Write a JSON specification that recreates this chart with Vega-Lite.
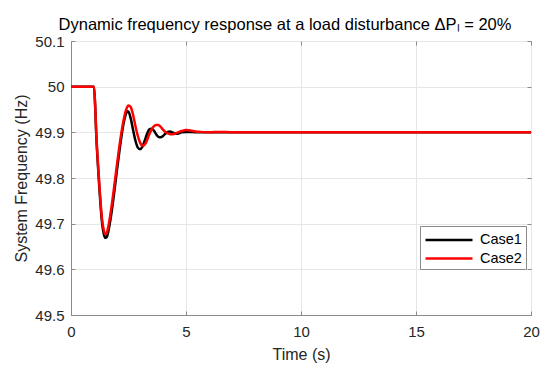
{
  "$schema": "https://vega.github.io/schema/vega-lite/v6.json",
  "width": 460,
  "height": 274,
  "autosize": {"type": "none"},
  "padding": {"left": 71, "top": 41, "right": 19, "bottom": 56},
  "background": "white",
  "title": {
    "text": "Dynamic frequency response at a load disturbance ΔPₗ = 20%",
    "font": "Liberation Sans",
    "fontSize": 16.5,
    "fontWeight": "normal",
    "color": "#000000",
    "anchor": "middle",
    "baseline": "alphabetic",
    "offset": -12,
    "dx": -16
  },
  "config": {
    "font": "Liberation Sans",
    "view": {"stroke": "#8a8a8a", "strokeWidth": 1},
    "axis": {
      "labelFont": "Liberation Sans",
      "labelFontSize": 15,
      "labelColor": "#262626",
      "titleFont": "Liberation Sans",
      "titleFontSize": 16,
      "titleFontWeight": "normal",
      "titleColor": "#262626",
      "domainColor": "#8a8a8a",
      "tickColor": "#8a8a8a",
      "gridColor": "#e6e6e6",
      "gridWidth": 1
    }
  },
  "datasets": {
    "freq": [
      {"t": 0, "f": 50, "series": "Case1"},
      {"t": 1.0, "f": 50, "series": "Case1"},
      {"t": 1.05, "f": 49.958, "series": "Case1"},
      {"t": 1.1, "f": 49.892, "series": "Case1"},
      {"t": 1.15, "f": 49.845, "series": "Case1"},
      {"t": 1.2, "f": 49.804, "series": "Case1"},
      {"t": 1.25, "f": 49.765, "series": "Case1"},
      {"t": 1.3, "f": 49.73, "series": "Case1"},
      {"t": 1.35, "f": 49.702, "series": "Case1"},
      {"t": 1.4, "f": 49.684, "series": "Case1"},
      {"t": 1.45, "f": 49.673, "series": "Case1"},
      {"t": 1.5, "f": 49.669, "series": "Case1"},
      {"t": 1.55, "f": 49.67, "series": "Case1"},
      {"t": 1.6, "f": 49.678, "series": "Case1"},
      {"t": 1.7, "f": 49.704, "series": "Case1"},
      {"t": 1.8, "f": 49.738, "series": "Case1"},
      {"t": 1.9, "f": 49.777, "series": "Case1"},
      {"t": 2.0, "f": 49.818, "series": "Case1"},
      {"t": 2.1, "f": 49.857, "series": "Case1"},
      {"t": 2.2, "f": 49.893, "series": "Case1"},
      {"t": 2.3, "f": 49.923, "series": "Case1"},
      {"t": 2.4, "f": 49.942, "series": "Case1"},
      {"t": 2.45, "f": 49.946, "series": "Case1"},
      {"t": 2.5, "f": 49.945, "series": "Case1"},
      {"t": 2.6, "f": 49.93, "series": "Case1"},
      {"t": 2.7, "f": 49.905, "series": "Case1"},
      {"t": 2.8, "f": 49.882, "series": "Case1"},
      {"t": 2.9, "f": 49.867, "series": "Case1"},
      {"t": 3.0, "f": 49.863, "series": "Case1"},
      {"t": 3.1, "f": 49.868, "series": "Case1"},
      {"t": 3.2, "f": 49.881, "series": "Case1"},
      {"t": 3.3, "f": 49.896, "series": "Case1"},
      {"t": 3.4, "f": 49.906, "series": "Case1"},
      {"t": 3.5, "f": 49.908, "series": "Case1"},
      {"t": 3.6, "f": 49.904, "series": "Case1"},
      {"t": 3.7, "f": 49.896, "series": "Case1"},
      {"t": 3.8, "f": 49.89, "series": "Case1"},
      {"t": 3.9, "f": 49.889, "series": "Case1"},
      {"t": 4.0, "f": 49.892, "series": "Case1"},
      {"t": 4.1, "f": 49.897, "series": "Case1"},
      {"t": 4.2, "f": 49.901, "series": "Case1"},
      {"t": 4.3, "f": 49.902, "series": "Case1"},
      {"t": 4.4, "f": 49.9, "series": "Case1"},
      {"t": 4.5, "f": 49.898, "series": "Case1"},
      {"t": 4.6, "f": 49.897, "series": "Case1"},
      {"t": 4.7, "f": 49.898, "series": "Case1"},
      {"t": 4.8, "f": 49.9, "series": "Case1"},
      {"t": 5.0, "f": 49.901, "series": "Case1"},
      {"t": 5.5, "f": 49.9, "series": "Case1"},
      {"t": 20, "f": 49.9, "series": "Case1"},
      {"t": 0, "f": 50, "series": "Case2"},
      {"t": 1.0, "f": 50, "series": "Case2"},
      {"t": 1.05, "f": 49.96, "series": "Case2"},
      {"t": 1.1, "f": 49.895, "series": "Case2"},
      {"t": 1.15, "f": 49.85, "series": "Case2"},
      {"t": 1.2, "f": 49.81, "series": "Case2"},
      {"t": 1.25, "f": 49.772, "series": "Case2"},
      {"t": 1.3, "f": 49.738, "series": "Case2"},
      {"t": 1.35, "f": 49.71, "series": "Case2"},
      {"t": 1.4, "f": 49.692, "series": "Case2"},
      {"t": 1.45, "f": 49.681, "series": "Case2"},
      {"t": 1.5, "f": 49.677, "series": "Case2"},
      {"t": 1.55, "f": 49.679, "series": "Case2"},
      {"t": 1.6, "f": 49.688, "series": "Case2"},
      {"t": 1.7, "f": 49.716, "series": "Case2"},
      {"t": 1.8, "f": 49.751, "series": "Case2"},
      {"t": 1.9, "f": 49.79, "series": "Case2"},
      {"t": 2.0, "f": 49.83, "series": "Case2"},
      {"t": 2.1, "f": 49.868, "series": "Case2"},
      {"t": 2.2, "f": 49.902, "series": "Case2"},
      {"t": 2.3, "f": 49.93, "series": "Case2"},
      {"t": 2.4, "f": 49.95, "series": "Case2"},
      {"t": 2.5, "f": 49.959, "series": "Case2"},
      {"t": 2.6, "f": 49.955, "series": "Case2"},
      {"t": 2.7, "f": 49.938, "series": "Case2"},
      {"t": 2.8, "f": 49.914, "series": "Case2"},
      {"t": 2.9, "f": 49.893, "series": "Case2"},
      {"t": 3.0, "f": 49.878, "series": "Case2"},
      {"t": 3.1, "f": 49.871, "series": "Case2"},
      {"t": 3.2, "f": 49.873, "series": "Case2"},
      {"t": 3.3, "f": 49.882, "series": "Case2"},
      {"t": 3.4, "f": 49.895, "series": "Case2"},
      {"t": 3.5, "f": 49.906, "series": "Case2"},
      {"t": 3.6, "f": 49.913, "series": "Case2"},
      {"t": 3.7, "f": 49.916, "series": "Case2"},
      {"t": 3.8, "f": 49.916, "series": "Case2"},
      {"t": 3.9, "f": 49.912, "series": "Case2"},
      {"t": 4.0, "f": 49.906, "series": "Case2"},
      {"t": 4.1, "f": 49.901, "series": "Case2"},
      {"t": 4.2, "f": 49.898, "series": "Case2"},
      {"t": 4.3, "f": 49.896, "series": "Case2"},
      {"t": 4.4, "f": 49.896, "series": "Case2"},
      {"t": 4.5, "f": 49.897, "series": "Case2"},
      {"t": 4.6, "f": 49.899, "series": "Case2"},
      {"t": 4.7, "f": 49.901, "series": "Case2"},
      {"t": 4.8, "f": 49.903, "series": "Case2"},
      {"t": 4.9, "f": 49.904, "series": "Case2"},
      {"t": 5.0, "f": 49.905, "series": "Case2"},
      {"t": 5.2, "f": 49.904, "series": "Case2"},
      {"t": 5.4, "f": 49.902, "series": "Case2"},
      {"t": 5.6, "f": 49.901, "series": "Case2"},
      {"t": 6.0, "f": 49.9, "series": "Case2"},
      {"t": 6.5, "f": 49.901, "series": "Case2"},
      {"t": 7.0, "f": 49.9, "series": "Case2"},
      {"t": 20, "f": 49.9, "series": "Case2"}
    ]
  },
  "data": {"name": "freq"},
  "resolve": {"axis": {"x": "independent", "y": "independent"}},
  "layer": [
    {
      "mark": {"type": "line", "strokeWidth": 2.5, "interpolate": "monotone"},
      "encoding": {
        "x": {
          "field": "t", "type": "quantitative",
          "scale": {"domain": [0, 20], "nice": false},
          "axis": {"title": "Time (s)", "values": [0, 5, 10, 15, 20], "tickSize": -4, "labelPadding": 13, "titlePadding": 7, "labelFlush": false}
        },
        "y": {
          "field": "f", "type": "quantitative",
          "scale": {"domain": [49.5, 50.1], "nice": false, "zero": false},
          "axis": {"title": "System Frequency (Hz)", "values": [49.5, 49.6, 49.7, 49.8, 49.9, 50, 50.1], "format": "~r", "tickSize": -4, "labelPadding": 11, "titlePadding": 5, "labelFlush": false}
        },
        "color": {
          "field": "series", "type": "nominal",
          "scale": {"domain": ["Case1", "Case2"], "range": ["#000000", "#ff0000"]},
          "legend": {
            "title": null,
            "orient": "none",
            "legendX": 349,
            "legendY": 185,
            "symbolType": "M-1,0H4.53",
            "symbolSize": 289,
            "symbolStrokeWidth": 2.5,
            "labelFont": "Liberation Sans",
            "labelFontSize": 14.5,
            "labelColor": "#000000",
            "labelOffset": 36,
            "strokeColor": "#8a8a8a",
            "fillColor": "#ffffff",
            "padding": 4,
            "rowPadding": 1.5
          }
        }
      }
    },
    {
      "mark": {"type": "line", "strokeOpacity": 0},
      "encoding": {
        "x": {"field": "t", "type": "quantitative", "axis": {"orient": "top", "values": [0, 5, 10, 15, 20], "labels": false, "title": null, "grid": false, "domain": false, "tickSize": -4}},
        "y": {"field": "f", "type": "quantitative", "axis": {"orient": "right", "values": [49.5, 49.6, 49.7, 49.8, 49.9, 50, 50.1], "labels": false, "title": null, "grid": false, "domain": false, "tickSize": -4}}
      }
    }
  ]
}
